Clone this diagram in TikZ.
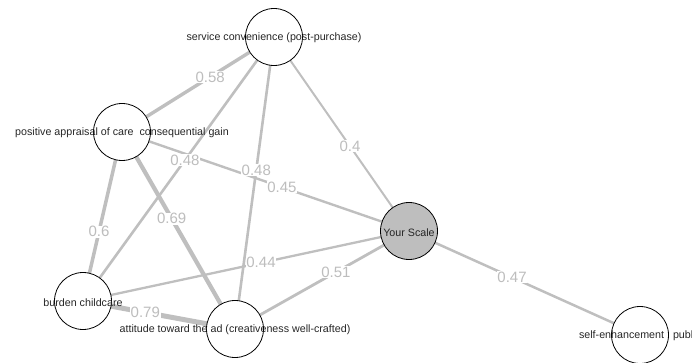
\documentclass[tikz,border=0pt]{standalone}
\usepackage{fontspec}
\setmainfont{Liberation Sans}
\usetikzlibrary{backgrounds}
\definecolor{edgegray}{HTML}{BFBFBF}
\definecolor{labgray}{HTML}{BDBDBD}
\definecolor{scalegray}{HTML}{BEBEBE}
\begin{document}
\begin{tikzpicture}[x=1pt,y=-1pt,
  vertex/.style={circle,draw=black,line width=0.8pt,fill=white,minimum size=57pt,inner sep=0pt},
  vtext/.style={font=\fontsize{10.7}{12}\selectfont,text=black!85,inner sep=0pt,yshift=-1.2pt},
  conn/.style={draw=edgegray,line width=#1pt},
  elabel/.style={font=\fontsize{15}{18}\selectfont,text=labgray,fill=white,inner sep=0.6pt}]
\useasboundingbox (0,0) rectangle (692,363);
\clip (0,0) rectangle (692,363);
% nodes
\node[vertex] (sc) at (274,37) {};
\node[vertex] (pa) at (122,132) {};
\node[vertex] (bc) at (83,301) {};
\node[vertex] (at) at (235,329) {};
\node[vertex,fill=scalegray] (ys) at (409,231) {};
\node[vertex] (se) at (640,335) {};
% node texts
\node[vtext] (sct) at (sc) {service convenience (post-purchase)};
\node[vtext] (pat) at (pa) {positive appraisal of care \ consequential gain};
\node[vtext] (bct) at (bc) {burden childcare};
\node[vtext] (att) at (at) {attitude toward the ad (creativeness well-crafted)};
\node[vtext] (yst) at (ys) {Your Scale};
\node[vtext] (set) at (se) {self-enhancement \ \ public};
% edges
\begin{pgfonlayer}{background}
\draw[conn=3.4] (sc.center) -- (pa.center);
\draw[conn=2.0] (sc.center) -- (ys.center);
\draw[conn=2.6] (sc.center) -- (bc.center);
\draw[conn=2.6] (sc.center) -- (at.center);
\draw[conn=2.4] (pa.center) -- (ys.center);
\draw[conn=3.5] (pa.center) -- (bc.center);
\draw[conn=4.2] (pa.center) -- (at.center);
\draw[conn=2.3] (bc.center) -- (ys.center);
\draw[conn=5.0] (bc.center) -- (at.center);
\draw[conn=2.8] (at.center) -- (ys.center);
\draw[conn=2.5] (ys.center) -- (se.center);
% edge labels
\path (sc.center) -- (pa.center) node[elabel,pos=0.42] {0.58};
\path (sc.center) -- (ys.center) node[elabel,pos=0.563] {0.4};
\path (sc.center) -- (bc.center) node[elabel,pos=0.466] {0.48};
\path (sc.center) -- (at.center) node[elabel,pos=0.455] {0.48};
\path (pa.center) -- (ys.center) node[elabel,pos=0.557] {0.45};
\path (pa.center) -- (bc.center) node[elabel,pos=0.59] {0.6};
\path (pa.center) -- (at.center) node[elabel,pos=0.44] {0.69};
\path (bc.center) -- (ys.center) node[elabel,pos=0.546] {0.44};
\path (bc.center) -- (at.center) node[elabel,pos=0.41] {0.79};
\path (at.center) -- (ys.center) node[elabel,pos=0.58] {0.51};
\path (ys.center) -- (se.center) node[elabel,pos=0.446] {0.47};
\end{pgfonlayer}
\end{tikzpicture}
\end{document}
